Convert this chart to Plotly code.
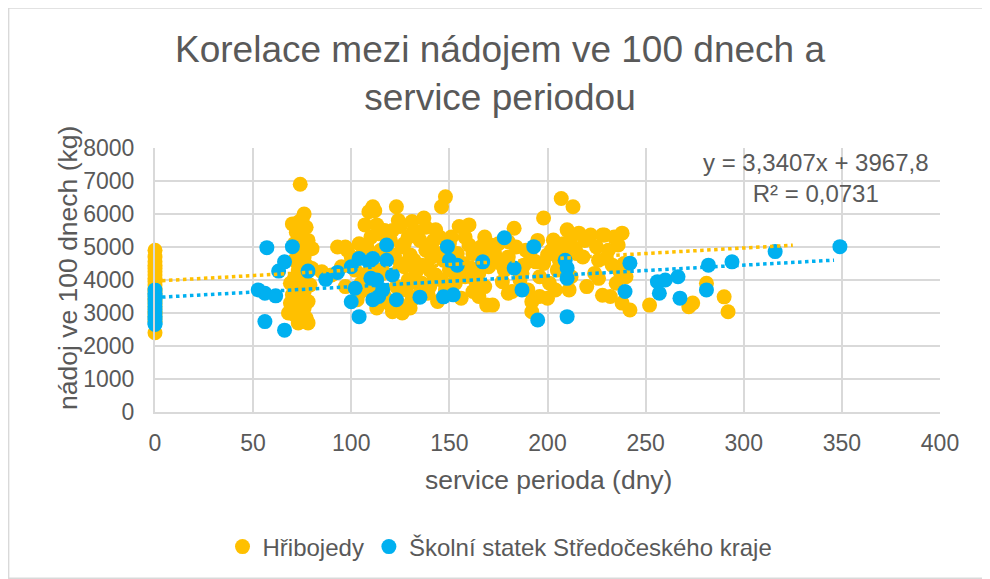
import plotly.graph_objects as go

# ---------------- data ----------------
series_names = ["Hřibojedy", "Školní statek Středočeského kraje"]

hrib_x = [
    0, 0, 0, 0, 0, 0, 0, 0, 0, 0, 0, 0, 0, 0, 0, 0, 0, 0, 0, 0, 0, 0,
    74, 76, 75, 73, 70, 77, 72, 75, 78, 71,
    75, 80, 73, 76, 71, 75, 78, 73, 76, 71,
    75, 79, 73, 76, 70, 75, 78, 72, 76, 74,
    71, 77, 75, 73, 78, 69, 69, 80, 68,
    85, 90, 93, 97, 98, 95, 97, 100, 102, 104,
    105, 107, 108, 109, 111, 112, 110, 113, 114, 115,
    113, 116, 118, 119, 120, 121, 122, 123, 124, 125,
    126, 127, 128, 129, 130, 130, 131, 132, 133, 134,
    135, 136, 137, 138, 139, 140, 141, 142, 143, 143,
    145, 146, 147, 148, 149, 150, 151, 152, 154, 155,
    156, 158, 160, 160, 161, 162, 164, 166, 167, 169,
    170, 171, 172, 174, 175, 177, 180, 182, 183, 185,
    188, 189, 192, 192, 194, 196, 198, 200, 200, 201,
    203, 205, 207, 208, 210, 211, 213, 214, 216, 218,
    222, 224, 226, 226, 228, 228, 229, 230, 233, 236,
    237, 238, 238, 242, 252, 272, 274, 281, 290, 292,
    103, 106, 117, 124, 126, 131, 135, 140, 144, 148,
    153, 157, 163, 165, 168, 178, 180, 186, 190, 196,
    204, 206, 212, 215, 220, 232, 235, 240,
    101, 104, 106, 108, 110, 112, 115, 117, 119, 121,
    123, 125, 127, 129, 132, 134, 136, 138, 140, 142,
    144, 146, 150, 152, 155, 158, 162, 165, 168, 173,
    176, 180, 184, 187, 191, 195, 198, 202, 206, 209,
    212, 219, 225, 231, 234, 239,
]
hrib_y = [
    4900, 4700, 4550, 4450, 4350, 4250, 4150, 4050, 3950, 3850, 3750,
    3650, 3550, 3450, 3350, 3250, 3150, 3050, 2950, 2850, 2750, 2400,
    6900, 6000, 5850, 5750, 5700, 5600, 5450, 5300, 5200, 5100,
    5000, 4950, 4850, 4700, 4600, 4500, 4400, 4300, 4150, 4050,
    3950, 3850, 3750, 3650, 3550, 3450, 3350, 3250, 3150, 3050,
    2950, 2850, 2750, 2700, 2700, 3300, 3900, 4350, 3000,
    4250, 4150, 5000, 5000, 4900, 4400, 3800, 4700, 4300, 3600,
    3900, 5670, 5000, 6070, 6220, 6100, 4550, 5670, 5400, 4900,
    3150, 4200, 5060, 3300, 5200, 3040, 4750, 6220, 5800, 5620,
    5010, 4400, 3700, 5300, 4760, 3150, 5770, 5500, 4250, 3900,
    5200, 4450, 5880, 4900, 3600, 5060, 4700, 4000, 5520, 4150,
    5300, 6220, 4600, 6520, 5100, 4300, 5300, 3900, 4800, 5620,
    3450, 4100, 5670, 5060, 4360, 3650, 4900, 5000, 4700, 3240,
    4400, 5060, 3240, 4660, 5100, 3950, 5160, 3650, 5570, 4300,
    4450, 4900, 3340, 3040, 4550, 4100, 5880, 4760, 3450, 3900,
    5210, 4300, 6470, 5100, 5520, 3700, 6220, 4960, 5420, 4700,
    5360, 4200, 4600, 4050, 5360, 3540, 5360, 4660, 4450, 5060,
    4250, 5420, 3300, 3090, 3240, 3190, 3300, 3900, 3490, 3040,
    3400, 3700, 3500, 3300, 3000, 3400, 3600, 3800, 3350, 3700,
    3900, 4500, 4000, 3500, 3800, 4300, 3600, 4000, 3700, 3500,
    3700, 4600, 4100, 4800, 3800, 3500, 3900, 4100,
    4500, 5100, 4800, 4200, 5300, 3800, 4300, 5500, 4700, 5500,
    3800, 4500, 5100, 4000, 4600, 5300, 3900, 5600, 4300, 5200,
    4800, 4000, 5100, 4600, 4200, 5300, 4800, 4200, 5300, 4800,
    4500, 4700, 5000, 4200, 4800, 5200, 4500, 4900, 5000, 4800,
    5300, 5200, 5000, 4900, 5300, 4500,
]

skola_x = [
    0, 0, 0, 0, 0, 0, 0, 0, 0, 0, 0, 0,
    52.6, 56, 57, 56, 61.5, 63, 66, 66, 70, 78,
    87, 93, 100, 100, 102, 104, 104, 109, 110, 111,
    111, 113, 114, 116, 118, 118, 121, 123, 135, 147,
    149, 150, 152, 154, 167, 178, 183, 187, 193, 195,
    209, 210, 210, 210, 239.5, 242, 256, 257, 260, 266.5,
    267.5, 281, 282, 294, 316, 349,
]
skola_y = [
    3700, 3600, 3500, 3400, 3300, 3200, 3100, 3000, 2900, 2800, 2700, 2650,
    3700, 3600, 4980, 2740, 3520, 4270, 4550, 2480, 5010, 4270,
    4020, 4230, 4400, 3340, 3750, 4650, 2890, 4550, 4050, 4650,
    3400, 4000, 3500, 3700, 4600, 5060, 4150, 3400, 3480, 3490,
    5010, 4600, 3550, 4450, 4550, 5280, 4360, 3700, 5010, 2790,
    4600, 4360, 4050, 2890, 3650, 4510, 3950, 3600, 4000, 4100,
    3450, 3700, 4450, 4550, 4860, 5010,
]

# linear trendlines (coefficients)
hrib_trend_slope, hrib_trend_intercept = 3.3407, 3967.8
hrib_trend_range = [0, 325]
skola_trend_slope, skola_trend_intercept = 3.27, 3470
skola_trend_range = [0, 346]
trend_label = "y = 3,3407x + 3967,8<br>R² = 0,0731"

x_ticks = [0, 50, 100, 150, 200, 250, 300, 350, 400]
y_ticks = [0, 1000, 2000, 3000, 4000, 5000, 6000, 7000, 8000]

# ---------------- styles ----------------
YEL = "#FFC000"
BLU = "#00B0F0"
TXT = "#595959"
GRID = "#d9d9d9"
FONT = "Liberation Sans, Arial, sans-serif"

fig = go.Figure()
fig.add_trace(go.Scatter(x=hrib_x, y=hrib_y, mode="markers", name=series_names[0],
                         cliponaxis=False,
                         marker=dict(color=YEL, size=15, line=dict(width=0))))
fig.add_trace(go.Scatter(x=skola_x, y=skola_y, mode="markers", name=series_names[1],
                         cliponaxis=False,
                         marker=dict(color=BLU, size=15, line=dict(width=0))))
fig.add_trace(go.Scatter(x=hrib_trend_range,
                         y=[hrib_trend_intercept + hrib_trend_slope * v for v in hrib_trend_range],
                         mode="lines", showlegend=False, hoverinfo="skip",
                         line=dict(color=YEL, width=3.5, dash="dot")))
fig.add_trace(go.Scatter(x=skola_trend_range,
                         y=[skola_trend_intercept + skola_trend_slope * v for v in skola_trend_range],
                         mode="lines", showlegend=False, hoverinfo="skip",
                         line=dict(color=BLU, width=3.5, dash="dot")))

# page has an 8px body margin; work in reference-screen pixels and subtract it
OFF = 8
W, H = 990 - OFF, 579 - OFF
L = 155 - OFF
T = 148 - OFF
R = W - (940 - OFF)
B = H - (412 - OFF)
pw, ph = W - L - R, H - T - B

def px2paper_x(p):
    return (p - OFF - L) / pw

def px2paper_y(p):
    return (H - B - (p - OFF)) / ph

fig.update_layout(
    width=W, height=H,
    margin=dict(l=L, r=R, t=T, b=B, autoexpand=False),
    paper_bgcolor="white", plot_bgcolor="white",
    font=dict(family=FONT, color=TXT),
    title=dict(text="Korelace mezi nádojem ve 100 dnech a<br>service periodou",
               x=(500 - OFF) / W, xanchor="center", xref="container",
               y=1 - 54 / H, yanchor="top", yref="container",
               font=dict(size=37, color=TXT, family=FONT)),
    xaxis=dict(range=[0, 400], tickvals=x_ticks, showgrid=True, gridcolor=GRID, gridwidth=2,
               zeroline=False, showline=True, linecolor=GRID, linewidth=2,
               ticks="outside", ticklen=9, tickcolor="rgba(0,0,0,0)",
               tickfont=dict(size=23, color=TXT), fixedrange=True, automargin=False),
    yaxis=dict(range=[0, 8000], tickvals=y_ticks, showgrid=True, gridcolor=GRID, gridwidth=2,
               zeroline=False, showline=True, linecolor=GRID, linewidth=2,
               ticks="outside", ticklen=14, tickcolor="rgba(0,0,0,0)",
               tickfont=dict(size=23, color=TXT), fixedrange=True, automargin=False),
    legend=dict(orientation="h", x=px2paper_x(500), xref="paper", xanchor="center",
                y=px2paper_y(547), yanchor="middle",
                font=dict(size=24, color=TXT, family=FONT),
                bgcolor="rgba(0,0,0,0)"),
    showlegend=True,
    annotations=[
        dict(text=trend_label, xref="x", yref="y", x=337, y=7090, showarrow=False,
             xanchor="center", yanchor="middle",
             align="center", font=dict(size=24, color=TXT, family=FONT)),
        dict(text="service perioda (dny)", xref="paper", yref="paper",
             x=px2paper_x(548), y=px2paper_y(480), showarrow=False,
             xanchor="center", yanchor="middle",
             font=dict(size=26.5, color=TXT, family=FONT)),
        dict(text="nádoj ve 100 dnech (kg)", xref="paper", yref="paper",
             x=px2paper_x(68), y=px2paper_y(268), showarrow=False, textangle=-90,
             xanchor="center", yanchor="middle",
             font=dict(size=26.5, color=TXT, family=FONT)),
    ],
    shapes=[
        dict(type="rect", xref="paper", yref="paper",
             x0=-L / pw + 0.0008, x1=1 + R / pw - 0.0015,
             y0=-B / ph + 0.003, y1=1 + T / ph,
             line=dict(color=GRID, width=1.5), fillcolor="rgba(0,0,0,0)", layer="below"),
    ],
)

fig.write_html("out.html")
